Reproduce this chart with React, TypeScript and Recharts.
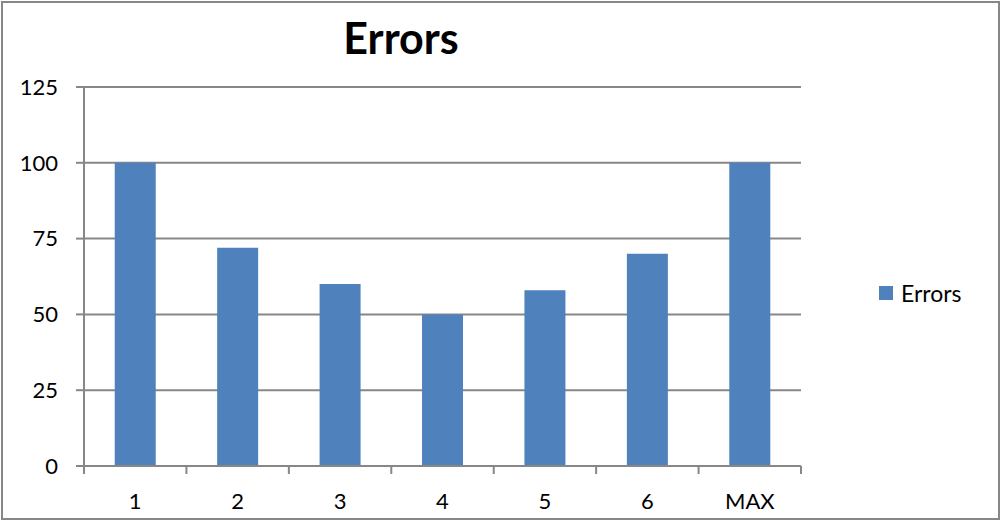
import { BarChart, Bar, XAxis, YAxis, CartesianGrid, Legend } from 'recharts';

const categories = ['1', '2', '3', '4', '5', '6', 'MAX'];
const errors = [100, 72, 60, 50, 58, 70, 100];
const yTicks = [0, 25, 50, 75, 100, 125];
const boundaryTicks = [0, 1, 2, 3, 4, 5, 6, 7];

const data = categories.map((name, i) => ({ name, idx: i + 0.5, Errors: errors[i] }));

const FONT = 'Lato, "Open Sans", sans-serif';
const GRAY = '#878787';
const BLUE = '#4F81BD';

function LegendContent(props: any) {
  const items = props.payload || [];
  return (
    <div>
      {items.map((p: any) => (
        <div key={p.value} style={{ display: 'flex', alignItems: 'center', fontFamily: FONT, fontSize: 23, color: '#000' }}>
          <span style={{ display: 'inline-block', width: 14, height: 14, background: BLUE, marginRight: 8 }} />
          {p.value}
        </div>
      ))}
    </div>
  );
}

export default function App() {
  return (
    <div style={{ position: 'absolute', left: 0, top: 0, width: 1002, height: 521, background: '#fff' }}>
      <div
        style={{
          position: 'absolute', left: 1, top: 1, width: 999, height: 519,
          boxSizing: 'border-box', border: `2px solid ${GRAY}`,
        }}
      />
      <div
        style={{
          position: 'absolute', left: 301, top: 12, width: 200, textAlign: 'center',
          fontFamily: FONT, fontWeight: 700, fontSize: 43, color: '#000', lineHeight: '52px',
        }}
      >
        Errors
      </div>
      <div style={{ position: 'absolute', left: 0, top: 0 }}>
        <BarChart
          width={1002}
          height={521}
          data={data}
          margin={{ top: 87, right: 201, left: 0, bottom: 0 }}
          barCategoryGap="30%"
        >
          <CartesianGrid xAxisId="bcat" vertical={false} stroke={GRAY} strokeWidth={2} />
          <XAxis
            xAxisId="aedge"
            type="number"
            dataKey="idx"
            domain={[0, 7]}
            ticks={boundaryTicks}
            allowDataOverflow
            height={1}
            tickSize={8}
            tickFormatter={() => ''}
            tickLine={{ stroke: GRAY, strokeWidth: 2 }}
            axisLine={{ stroke: GRAY, strokeWidth: 2 }}
            interval={0}
          />
          <XAxis
            xAxisId="bcat"
            dataKey="name"
            height={54}
            tickLine={false}
            axisLine={false}
            tickSize={0}
            tickMargin={26}
            tick={{ fill: '#000', fontSize: 22, fontFamily: FONT }}
            interval={0}
          />
          <YAxis
            width={84}
            domain={[0, 125]}
            ticks={yTicks}
            tickSize={8}
            tickMargin={18}
            tickLine={{ stroke: GRAY, strokeWidth: 2 }}
            axisLine={{ stroke: GRAY, strokeWidth: 2 }}
            tick={{ fill: '#000', fontSize: 22, fontFamily: FONT }}
            interval={0}
          />
          <Legend
            layout="horizontal"
            align="center"
            verticalAlign="middle"
            content={<LegendContent />}
            wrapperStyle={{ left: 879, top: 279, width: 'auto' }}
          />
          <Bar xAxisId="bcat" dataKey="Errors" fill={BLUE} isAnimationActive={false} />
        </BarChart>
      </div>
    </div>
  );
}
